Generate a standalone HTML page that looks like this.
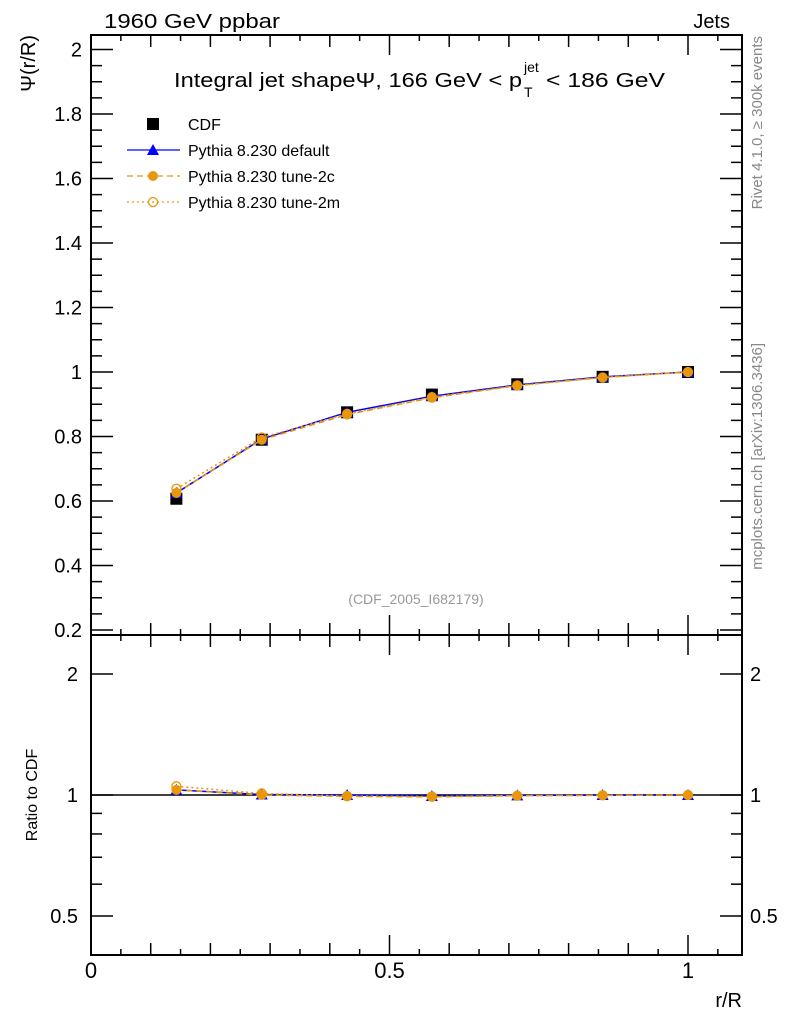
<!DOCTYPE html>
<html><head><meta charset="utf-8"><style>
body{margin:0;background:#fff;}
svg{display:block;font-family:"Liberation Sans",sans-serif;}
</style></head><body>
<svg id="c" width="786" height="1024" viewBox="0 0 786 1024"></svg>
<script>
const xs=[0.143,0.286,0.429,0.571,0.714,0.857,1.0];
const cdf=[0.607,0.790,0.875,0.930,0.962,0.985,1.0];
const pyDefault=[0.625,0.792,0.875,0.925,0.960,0.985,1.0];
const pyTune2c=[0.625,0.790,0.868,0.920,0.958,0.983,1.0];
const pyTune2m=[0.638,0.797,0.870,0.922,0.958,0.983,1.0];
const mainTicks=[0.2,0.4,0.6,0.8,1,1.2,1.4,1.6,1.8,2];
const mainTickLabels=["0.2","0.4","0.6","0.8","1","1.2","1.4","1.6","1.8","2"];
const xTicks=[0,0.5,1];
const xTickLabels=["0","0.5","1"];
const ratioTicks=[0.5,1,2];
const ratioTickLabels=["0.5","1","2"];

const S=document.getElementById('c');const NS='http://www.w3.org/2000/svg';
function el(t,a,p){const e=document.createElementNS(NS,t);for(const k in a)e.setAttribute(k,a[k]);(p||S).appendChild(e);return e;}
const L=91,R=742,T=35,MB=635,RB=955;
const X=v=>L+v*597;
const Y=v=>372-(v-1)*322.5;
const YR=v=>795-Math.log2(v)*121;
function txt(x,y,s,o){const t=el('text',Object.assign({x:x,y:y,'font-size':20,fill:'#000'},o||{}));t.textContent=s;return t;}

let f=el('rect',{x:L,y:T,width:R-L,height:MB-T,fill:'none',stroke:'#000','stroke-width':2});

f=el('rect',{x:L,y:MB,width:R-L,height:RB-MB,fill:'none',stroke:'#000','stroke-width':2});


for(let v=0.2;v<=2.04;v+=0.05){const y=Y(v);const maj=Math.abs(v*5-Math.round(v*5))<1e-6;
 el('line',{x1:L,x2:L+(maj?22:11),y1:y,y2:y,stroke:'#000','stroke-width':1.5});
 el('line',{x1:R,x2:R-(maj?22:11),y1:y,y2:y,stroke:'#000','stroke-width':1.5});}
mainTicks.forEach((v,i)=>{const t=txt(82,Y(v)+7,mainTickLabels[i],{'text-anchor':'end'});
 });
for(let v=0;v<=1.09;v+=0.05){const x=X(v);const maj=Math.abs(v*10-Math.round(v*10))<1e-6&&Math.round(v*10)%5==0;const mid=Math.abs(v*10-Math.round(v*10))<1e-6;
 const len=maj?20:(mid?12:6);
 [MB,RB].forEach(b=>el('line',{x1:x,x2:x,y1:b,y2:b-len,stroke:'#000','stroke-width':1.5}));
 [T,MB].forEach(b=>el('line',{x1:x,x2:x,y1:b,y2:b+len,stroke:'#000','stroke-width':1.5}));}
xTicks.forEach((v,i)=>{const t=txt(X(v),978,xTickLabels[i],{'text-anchor':'middle','font-size':22});
 });
[0.4,0.5,0.6,0.7,0.8,0.9,1,2].forEach(v=>{const y=YR(v);const maj=[0.5,1,2].includes(v);
 el('line',{x1:L,x2:L+(maj?22:11),y1:y,y2:y,stroke:'#000','stroke-width':1.5});
 el('line',{x1:R,x2:R-(maj?22:11),y1:y,y2:y,stroke:'#000','stroke-width':1.5});});
ratioTicks.forEach((v,i)=>{let t=txt(78,YR(v)+7,ratioTickLabels[i],{'text-anchor':'end'});
 
 t=txt(750,YR(v)+7,ratioTickLabels[i]);});
let rl=el('line',{x1:L,x2:R,y1:YR(1),y2:YR(1),stroke:'#000','stroke-width':1.5});


const series=[
 {name:'pythia-default',d:pyDefault,c:'#0000ff',dash:'',m:'tri'},
 {name:'pythia-tune-2c',d:pyTune2c,c:'#e8960a',dash:'6,4',m:'dot'},
 {name:'pythia-tune-2m',d:pyTune2m,c:'#e8960a',dash:'2,3',m:'ring'}];
function marker(type,x,y,c,n){let e;
 if(type=='tri')e=el('polygon',{points:`${x},${y-6} ${x-6},${y+5} ${x+6},${y+5}`,fill:c});
 else if(type=='dot')e=el('circle',{cx:x,cy:y,r:5,fill:c});
 else if(type=='ring')e=el('circle',{cx:x,cy:y,r:4.5,fill:'none',stroke:c,'stroke-width':1.3});
 else e=el('rect',{x:x-6,y:y-6,width:12,height:12,fill:'#000'});
 }
cdf.forEach((v,i)=>marker('sq',X(xs[i]),Y(v),'#000','cdf-point'));
series.forEach(s=>{
 let p=el('polyline',{points:s.d.map((v,i)=>X(xs[i])+','+Y(v)).join(' '),fill:'none',stroke:s.c,'stroke-width':1.5,'stroke-dasharray':s.dash});
 
 s.d.forEach((v,i)=>marker(s.m,X(xs[i]),Y(v),s.c,s.name+'-point'));
 p=el('polyline',{points:s.d.map((v,i)=>X(xs[i])+','+YR(v/cdf[i])).join(' '),fill:'none',stroke:s.c,'stroke-width':1.5,'stroke-dasharray':s.dash});
 
 s.d.forEach((v,i)=>marker(s.m,X(xs[i]),YR(v/cdf[i]),s.c,s.name+'-ratio-point'));
});

const leg=[['CDF','sq','#000','',20],['Pythia 8.230 default','tri','#0000ff','',168],['Pythia 8.230 tune-2c','dot','#e8960a','6,4',164],['Pythia 8.230 tune-2m','ring','#e8960a','2,3',168]];
leg.forEach((l,i)=>{const y=124+i*26;
 if(l[1]!='sq'){const ln=el('line',{x1:127,x2:180,y1:y,y2:y,stroke:l[2],'stroke-width':1.3,'stroke-dasharray':l[3]});
  }
 marker(l[1],153,y,l[2],'legend-marker');
 const t=txt(188,y+6,l[0],{'font-size':16});});

let t;
t=txt(104,28,'1960 GeV ppbar',{textLength:176,lengthAdjust:'spacingAndGlyphs'});
t=txt(730,28,'Jets',{'text-anchor':'end'});
t=txt(174,87,'Integral jet shape\u03a8, 166 GeV < p',{'font-size':20,textLength:348,lengthAdjust:'spacingAndGlyphs'});
t=txt(524,72,'jet',{'font-size':14});
t=txt(524,97,'T',{'font-size':14});
t=txt(546,87,'< 186 GeV',{'font-size':20,textLength:119,lengthAdjust:'spacingAndGlyphs'});
t=txt(416,604,'(CDF_2005_I682179)',{'font-size':14,fill:'#999','text-anchor':'middle'});
t=txt(0,0,'\u03a8(r/R)',{'font-size':20,'text-anchor':'end',transform:'translate(35,35) rotate(-90)'});
t=txt(0,0,'Ratio to CDF',{'font-size':16,'text-anchor':'middle',transform:'translate(37,795) rotate(-90)'});
t=txt(742,1007,'r/R',{'text-anchor':'end'});
t=txt(0,0,'Rivet 4.1.0, \u2265 300k events',{'font-size':15,fill:'#888','text-anchor':'end',transform:'translate(762,36) rotate(-90)'});
t=txt(0,0,'mcplots.cern.ch [arXiv:1306.3436]',{'font-size':15,fill:'#888','text-anchor':'end',transform:'translate(762,343) rotate(-90)'});
</script>
</body></html>
